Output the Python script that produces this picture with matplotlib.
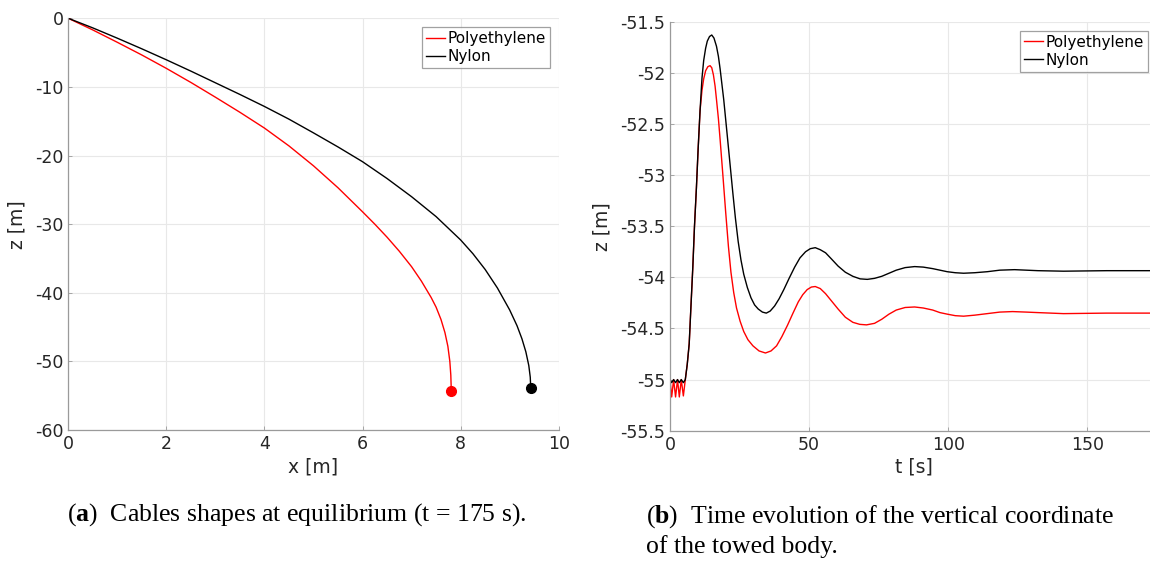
import matplotlib
matplotlib.use("Agg")
import matplotlib.pyplot as plt
from matplotlib.ticker import FuncFormatter

plt.rcParams['font.family'] = ['DejaVu Sans']
plt.rcParams['axes.unicode_minus'] = False
plt.rcParams['mathtext.fontset'] = 'custom'
plt.rcParams['mathtext.rm'] = 'Liberation Serif'
plt.rcParams['mathtext.bf'] = 'Liberation Serif:bold'

# (a) cable shapes at equilibrium
pe_x = [0, 0.5, 1.0, 1.5, 2.0, 2.5, 3.0, 3.5, 4.0, 4.5, 5.0, 5.5, 6.0, 6.25, 6.5, 6.75,
        7.0, 7.2, 7.4, 7.5, 7.6, 7.68, 7.74, 7.78, 7.8, 7.81]
pe_z = [0, -1.7, -3.5, -5.35, -7.3, -9.35, -11.5, -13.7, -16.0, -18.6, -21.5, -24.7,
        -28.2, -30.0, -31.9, -33.95, -36.2, -38.3, -40.7, -42.1, -43.9, -45.8, -47.8,
        -50.0, -52.0, -54.3]
ny_x = [0, 0.5, 1.0, 1.5, 2.0, 2.5, 3.0, 3.5, 4.0, 4.5, 5.0, 5.5, 6.0, 6.5, 7.0, 7.5,
        8.0, 8.25, 8.5, 8.75, 9.0, 9.15, 9.25, 9.33, 9.39, 9.42, 9.43]
ny_z = [0, -1.4, -2.9, -4.45, -6.05, -7.7, -9.4, -11.1, -12.85, -14.7, -16.7, -18.75,
        -20.9, -23.35, -26.0, -28.9, -32.3, -34.3, -36.6, -39.3, -42.5, -44.8, -46.7,
        -48.6, -50.6, -52.3, -53.9]

# (b) vertical coordinate of the towed body over time
pe_t = [0, 0.6, 1.3, 2.0, 2.7, 3.35, 4.05, 4.8, 5.5, 6.2, 6.9, 7.5, 8.2, 8.8, 9.5, 10.1,
        10.8, 11.5, 12.1, 12.8, 13.6, 14.4, 15.0, 15.6, 16.2, 16.7, 17.4, 18.0, 19.0,
        20.0, 21.0, 21.9, 22.9, 23.9, 25.2, 26.5, 28.0, 29.8, 32.0, 34.3, 36.3, 38.3,
        40.2, 42.2, 44.2, 46.1, 47.7, 49.3, 50.8, 52.2, 54.0, 55.9, 58.0, 60.4, 63.0,
        65.7, 68.2, 70.6, 73.5, 76.1, 78.7, 81.3, 84.5, 87.9, 91.0, 94.4, 97.0, 99.6,
        102.5, 105.5, 109.5, 114, 118.5, 123.1, 128, 132.2, 141.4, 157, 175]
pe_zt = [-55.0, -55.17, -55.0, -55.17, -55.0, -55.17, -55.0, -55.16, -55.0, -54.85,
         -54.65, -54.3, -53.9, -53.5, -53.12, -52.75, -52.37, -52.17, -52.06, -51.98,
         -51.94, -51.93, -51.95, -52.02, -52.13, -52.26, -52.45, -52.65, -53.0, -53.36,
         -53.7, -53.95, -54.15, -54.3, -54.43, -54.53, -54.61, -54.67, -54.72, -54.74,
         -54.72, -54.67, -54.58, -54.47, -54.35, -54.24, -54.17, -54.12, -54.095, -54.09,
         -54.11, -54.16, -54.23, -54.31, -54.39, -54.44, -54.46, -54.465, -54.45, -54.41,
         -54.36, -54.32, -54.295, -54.29, -54.3, -54.32, -54.345, -54.36, -54.375, -54.38,
         -54.37, -54.355, -54.34, -54.335, -54.34, -54.345, -54.355, -54.35, -54.35]
ny_t = [0, 0.6, 1.3, 2.0, 2.7, 3.35, 4.05, 4.8, 5.5, 6.2, 6.9, 7.5, 8.2, 8.8, 9.5, 10.1,
        10.8, 11.5, 12.1, 12.8, 13.4, 14.2, 15.0, 15.8, 16.7, 17.4, 18.0, 19.3, 20.6,
        21.6, 22.6, 23.5, 24.5, 25.5, 26.5, 27.8, 29.1, 30.4, 31.7, 33.2, 34.6, 36.0,
        37.6, 39.2, 40.9, 42.8, 44.8, 46.7, 48.7, 50.4, 52.2, 54.0, 55.9, 58.0, 60.4,
        63.0, 65.7, 68.3, 70.9, 73.5, 76.1, 78.7, 81.3, 84.5, 87.9, 91.0, 94.4, 97.0,
        99.6, 102.5, 105.5, 109.5, 114, 118.5, 123.8, 128, 132.2, 141.4, 157, 175]
ny_zt = [-55.0, -55.03, -55.0, -55.03, -55.0, -55.03, -55.0, -55.03, -55.0, -54.85,
         -54.65, -54.3, -53.9, -53.5, -53.12, -52.75, -52.37, -52.05, -51.88, -51.76,
         -51.69, -51.645, -51.63, -51.66, -51.74, -51.84, -51.96, -52.26, -52.62, -52.9,
         -53.18, -53.42, -53.65, -53.83, -53.97, -54.1, -54.2, -54.27, -54.31, -54.34,
         -54.35, -54.33, -54.28, -54.21, -54.12, -54.01, -53.9, -53.81, -53.75, -53.72,
         -53.71, -53.73, -53.76, -53.82, -53.89, -53.95, -53.99, -54.015, -54.02, -54.01,
         -53.99, -53.96, -53.93, -53.905, -53.895, -53.9, -53.915, -53.93, -53.945,
         -53.955, -53.96, -53.955, -53.945, -53.93, -53.925, -53.93, -53.935, -53.94,
         -53.935, -53.935]

labels = ['Polyethylene', 'Nylon']
colors = ['#ff0000', '#000000']

W, H = 1150, 563
fig = plt.figure(figsize=(W / 100, H / 100), dpi=100)

def px_axes(l, t, r, b):
    return fig.add_axes([l / W, 1 - b / H, (r - l) / W, (b - t) / H])

def style(ax):
    for s in ['top', 'right']:
        ax.spines[s].set_visible(False)
    for s in ['left', 'bottom']:
        ax.spines[s].set_color('#9a9a9a')
        ax.spines[s].set_linewidth(0.9)
    ax.grid(True, color='#e8e8e8', linewidth=0.8)
    ax.set_axisbelow(True)
    ax.tick_params(direction='in', length=3, width=0.6, color='#9a9a9a',
                   labelsize=12.5, labelcolor='#262626')
    ax.yaxis.set_major_formatter(FuncFormatter(lambda v, p: '%g' % v))
    ax.xaxis.set_major_formatter(FuncFormatter(lambda v, p: '%g' % v))

def legend(ax):
    lg = ax.legend(loc='upper right', fontsize=11, frameon=True, fancybox=False,
                   edgecolor='#8a8a8a', handlelength=1.25, handletextpad=0.15,
                   labelspacing=0.2, borderpad=0.25, borderaxespad=0.6)
    lg.get_frame().set_linewidth(0.9)

# left panel
ax1 = px_axes(68.3, 18.3, 558.7, 430)
ax1.plot(pe_x, pe_z, color=colors[0], lw=1.0, label=labels[0])
ax1.plot(ny_x, ny_z, color=colors[1], lw=1.0, label=labels[1])
ax1.plot(pe_x[-1], pe_z[-1], 'o', color=colors[0], ms=7)
ax1.plot(ny_x[-1], ny_z[-1], 'o', color=colors[1], ms=7)
ax1.set_xlim(0, 10)
ax1.set_ylim(-60, 0)
ax1.set_xticks(range(0, 11, 2))
ax1.set_yticks(range(-60, 1, 10))
style(ax1)
ax1.set_xlabel('x [m]', fontsize=13.5, color='#262626', labelpad=3)
ax1.set_ylabel('z [m]', fontsize=13.5, color='#262626', labelpad=6)
legend(ax1)

# right panel
ax2 = px_axes(670, 21.7, 1157, 430.7)
ax2.plot(pe_t, pe_zt, color=colors[0], lw=1.0, label=labels[0])
ax2.plot(ny_t, ny_zt, color=colors[1], lw=1.0, label=labels[1])
ax2.set_xlim(0, 175)
ax2.set_ylim(-55.5, -51.5)
ax2.set_xticks([0, 50, 100, 150])
ax2.set_yticks([-55.5, -55, -54.5, -54, -53.5, -53, -52.5, -52, -51.5])
style(ax2)
ax2.set_xlabel('t [s]', fontsize=13.5, color='#262626', labelpad=3)
ax2.set_ylabel('z [m]', fontsize=13.5, color='#262626', labelpad=6)
legend(ax2)

cap = dict(fontsize=18.5, family='Liberation Serif', va='baseline', ha='left', color='black')
fig.text(66.7 / W, 1 - 520.7 / H, r'($\mathbf{a}$)  Cables shapes at equilibrium (t = 175 s).', **cap)
fig.text(645.7 / W, 1 - 522.7 / H, r'($\mathbf{b}$)  Time evolution of the vertical coordinate', **cap)
fig.text(645.7 / W, 1 - 553 / H, 'of the towed body.', **cap)

fig.savefig('out.png', dpi=100)
